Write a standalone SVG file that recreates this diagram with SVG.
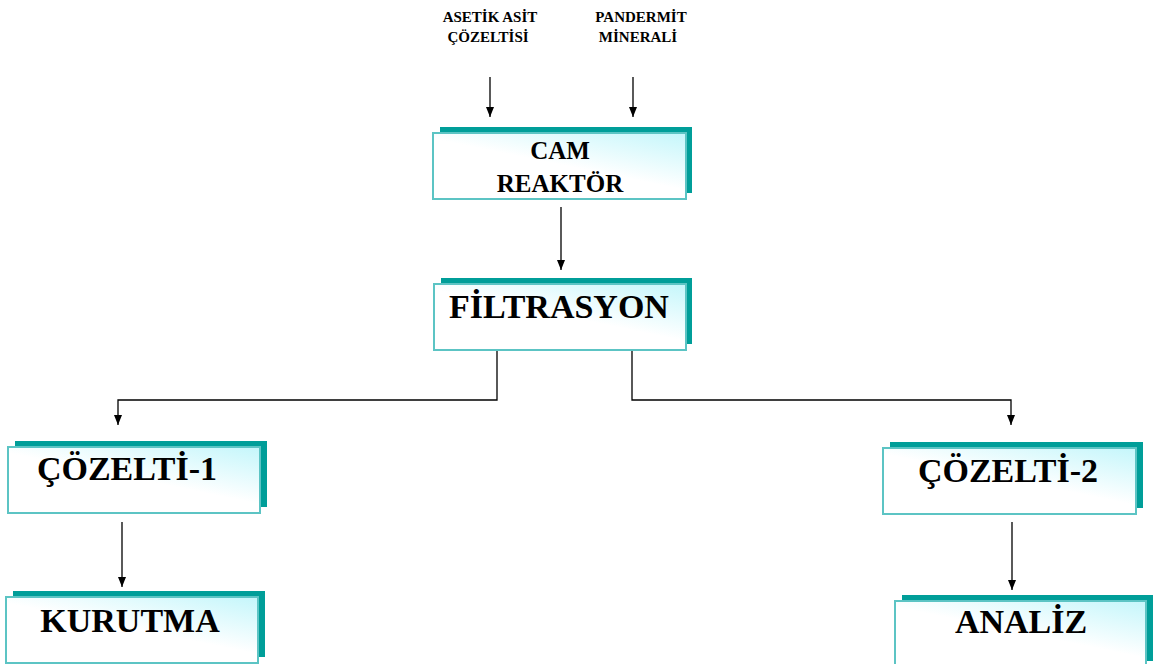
<svg xmlns="http://www.w3.org/2000/svg" width="1159" height="664" viewBox="0 0 1159 664">
<defs>
<linearGradient id="g" x1="1" y1="0" x2="0.3" y2="0.9">
<stop offset="0" stop-color="#c4f6fb"/>
<stop offset="0.6" stop-color="#ffffff"/>
<stop offset="1" stop-color="#ffffff"/>
</linearGradient>
<marker id="arr" viewBox="0 0 10 8" refX="10" refY="4" markerWidth="10" markerHeight="8" markerUnits="userSpaceOnUse" orient="auto">
<path d="M0,0 L10,4 L0,8 z" fill="#000"/>
</marker>
</defs>
<style>
.sh{fill:#009e99;}
.bx{fill:url(#g);stroke:#5cc4c4;stroke-width:2;}
.t{font-family:"Liberation Serif","Times New Roman",serif;font-weight:bold;fill:#000;text-anchor:middle;}
.lbl{font-size:15px;}
.m{font-size:25px;}
.b{font-size:34px;}
.c{fill:none;stroke:#000;stroke-width:1.3;}
</style>
<rect width="1159" height="664" fill="#fff"/>
<g id="label-asetik">
<text class="t lbl" x="490" y="22">ASETİK ASİT</text>
<text class="t lbl" x="488" y="42">ÇÖZELTİSİ</text>
</g>
<g id="label-pandermit">
<text class="t lbl" x="641" y="22">PANDERMİT</text>
<text class="t lbl" x="638" y="42">MİNERALİ</text>
</g>
<g id="connectors">
<path class="c" d="M490,77 V117" marker-end="url(#arr)"/>
<path class="c" d="M633,77 V117" marker-end="url(#arr)"/>
<path class="c" d="M561,207 V270" marker-end="url(#arr)"/>
<path class="c" d="M497,350 V400 H118 V425" marker-end="url(#arr)"/>
<path class="c" d="M632,350 V400 H1011 V425" marker-end="url(#arr)"/>
<path class="c" d="M122,522 V587" marker-end="url(#arr)"/>
<path class="c" d="M1012,522 V590" marker-end="url(#arr)"/>
</g>
<g id="cam-reaktor">
<rect class="sh" x="440" y="127" width="252" height="66"/>
<rect class="bx" x="433" y="133" width="253" height="66"/>
<text class="t m" x="560" y="159">CAM</text>
<text class="t m" x="560" y="192">REAKTÖR</text>
</g>
<g id="filtrasyon">
<rect class="sh" x="441" y="278" width="251" height="66"/>
<rect class="bx" x="434" y="284" width="252" height="66"/>
<text class="t b" x="559" y="318">FİLTRASYON</text>
</g>
<g id="cozelti-1">
<rect class="sh" x="15" y="441" width="252" height="66"/>
<rect class="bx" x="8" y="447" width="252" height="66"/>
<text class="t b" x="127" y="480">ÇÖZELTİ-1</text>
</g>
<g id="kurutma">
<rect class="sh" x="13" y="591" width="252" height="66"/>
<rect class="bx" x="6" y="597" width="252" height="66"/>
<text class="t b" x="130" y="632">KURUTMA</text>
</g>
<g id="cozelti-2">
<rect class="sh" x="890" y="442" width="253" height="66"/>
<rect class="bx" x="883" y="448" width="253" height="66"/>
<text class="t b" x="1008" y="482">ÇÖZELTİ-2</text>
</g>
<g id="analiz">
<rect class="sh" x="902" y="595" width="251" height="66"/>
<rect class="bx" x="895" y="601" width="251" height="66"/>
<text class="t b" x="1021" y="633">ANALİZ</text>
</g>
</svg>
